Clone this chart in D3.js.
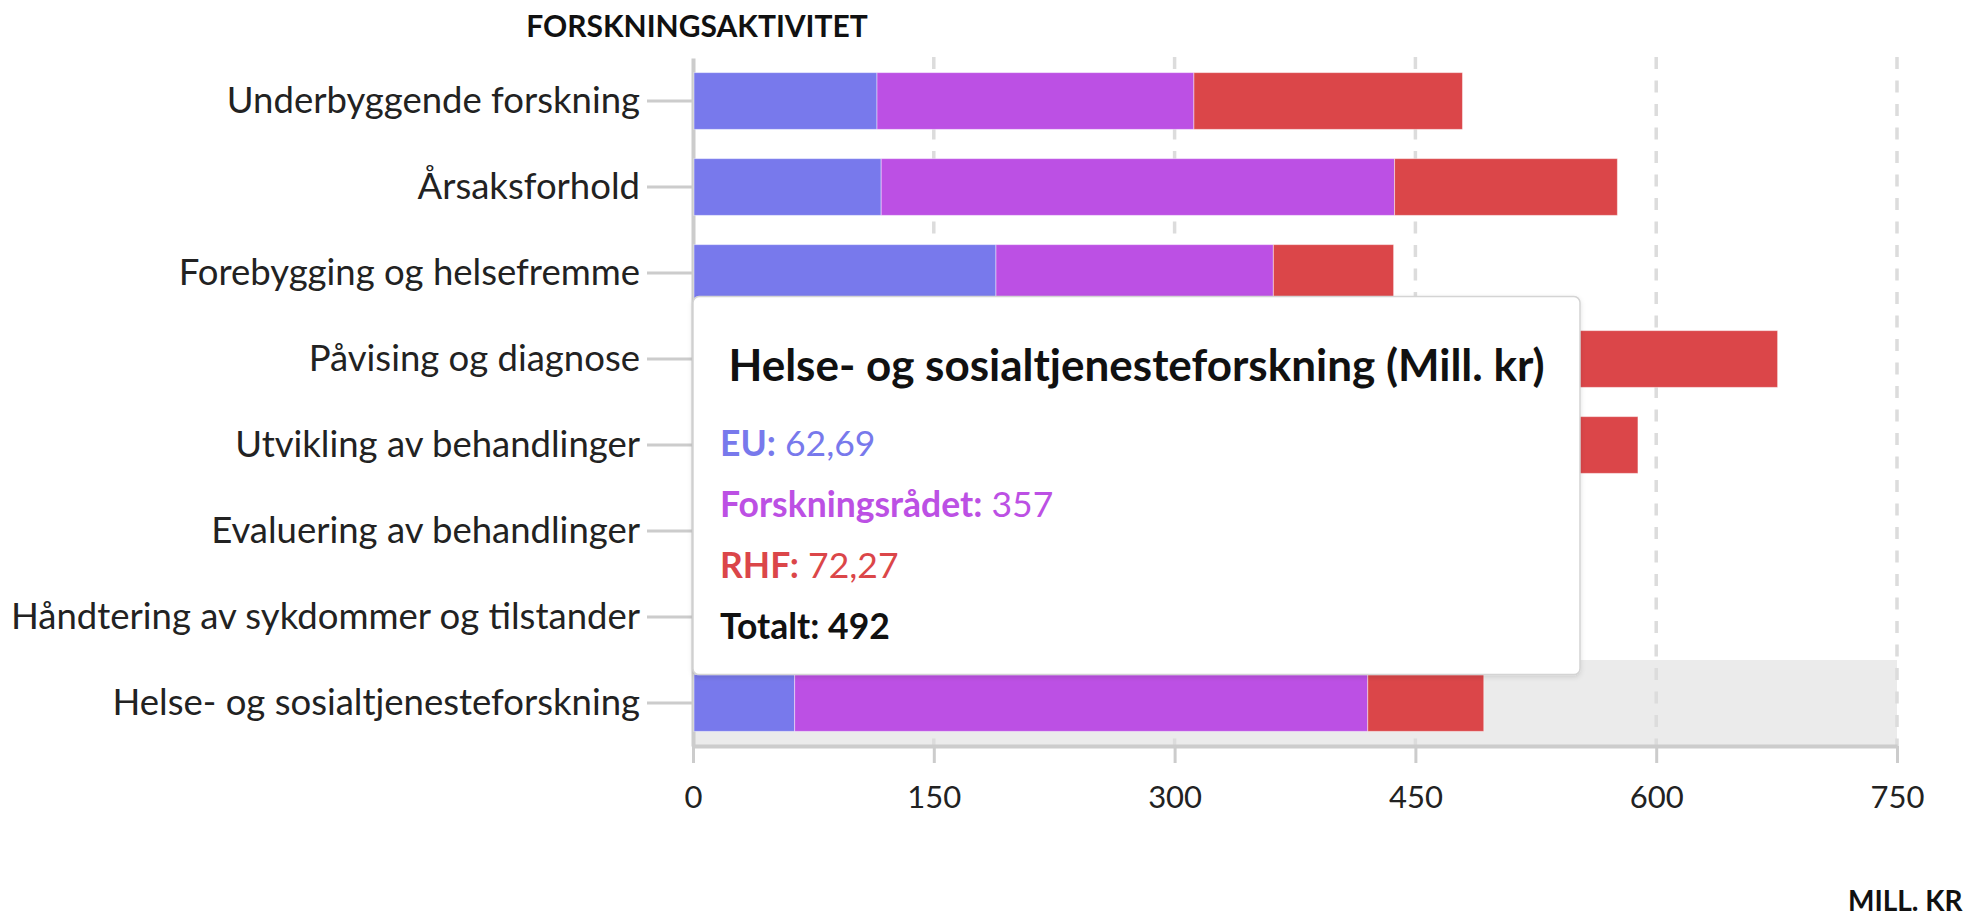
<!DOCTYPE html>
<html>
<head>
<meta charset="utf-8">
<script src="https://cdnjs.cloudflare.com/ajax/libs/d3/7.8.5/d3.min.js"></script>
<style>
  body { margin: 0; background: #fff; }
  svg { display: block; font-family: Lato, "Noto Sans", sans-serif; }
</style>
</head>
<body>
<svg id="chart"></svg>
<script>

var categories = [
    "Underbyggende forskning",
    "Årsaksforhold",
    "Forebygging og helsefremme",
    "Påvising og diagnose",
    "Utvikling av behandlinger",
    "Evaluering av behandlinger",
    "Håndtering av sykdommer og tilstander",
    "Helse- og sosialtjenesteforskning"
];
var series = ["EU", "Forskningsrådet", "RHF"];
var euValues = [114, 116.6, 188.1, 130, 150, 60, 70, 62.69];
var forskningsradetValues = [197.4, 319.8, 172.8, 290, 260, 150, 200, 357];
var rhfValues = [167.3, 138.8, 74.9, 255, 178, 140, 160, 72.27];
var xTicks = [0, 150, 300, 450, 600, 750];
var colors = ["#7879ec", "#bc50e4", "#db4649"];
var yTitle = "FORSKNINGSAKTIVITET";
var xTitle = "MILL. KR";
var unitLabel = "(Mill. kr)";
var totalLabel = "Totalt";
var hovered = "Helse- og sosialtjenesteforskning";

var width = 1977, height = 920;

var table = categories.map(function (c, i) {
    return { category: c, "EU": euValues[i], "Forskningsrådet": forskningsradetValues[i], "RHF": rhfValues[i] };
});

var stacked = d3.stack().keys(series)(table);

var x = d3.scaleLinear()
        .domain([0, 750])
        .range([693, 1897]);

var y = d3.scaleBand()
        .domain(categories)
        .range([58, 746])
        .paddingInner(0.34)
        .paddingOuter(0.17);

var color = d3.scaleOrdinal().domain(series).range(colors);

var nb = d3.formatLocale({ decimal: ",", thousands: "\u00a0", grouping: [3], currency: ["", " kr"] });
var fmt = nb.format(".4~r"),
    fmtTotal = nb.format(".3~r");

var svg = d3.select("#chart")
        .attr("width", width)
        .attr("height", height);

// highlighted row
svg.append("rect")
    .attr("x", x(0))
    .attr("y", y(hovered) - y.step() * y.paddingInner() / 2)
    .attr("width", x(750) - x(0))
    .attr("height", 746 - (y(hovered) - y.step() * y.paddingInner() / 2))
    .style("fill", "#ebebeb");

// grid
svg.append("g")
    .selectAll("line")
    .data(xTicks.slice(1))
    .join("line")
    .attr("x1", function (d) { return x(d); })
    .attr("x2", function (d) { return x(d); })
    .attr("y1", 57)
    .attr("y2", 746)
    .style("stroke", "#dcdcdc")
    .style("stroke-width", 3.5)
    .style("stroke-dasharray", "12,11.5");

// x axis
var xAxis = svg.append("g")
        .attr("class", "x axis")
        .attr("transform", "translate(0,746)")
        .call(d3.axisBottom(x).tickValues(xTicks).tickSize(17).tickPadding(23).tickSizeOuter(0));

xAxis.select(".domain").style("stroke", "#cccccc").style("stroke-width", 4);
xAxis.selectAll(".tick line").style("stroke", "#cccccc").style("stroke-width", 3);
xAxis.selectAll(".tick text")
    .style("font-size", "31px")
    .style("font-family", "Lato, sans-serif")
    .style("fill", "#222");

// y axis
var yAxis = svg.append("g")
        .attr("class", "y axis")
        .attr("transform", "translate(" + x(0) + ",0)")
        .call(d3.axisLeft(y).tickSize(46).tickPadding(7).tickSizeOuter(0));

yAxis.select(".domain").style("stroke", "#cccccc").style("stroke-width", 4);
yAxis.selectAll(".tick line").style("stroke", "#cccccc").style("stroke-width", 3);
yAxis.selectAll(".tick text")
    .style("font-size", "36.5px")
    .style("font-family", "Lato, sans-serif")
    .style("fill", "#222");

// bars
svg.append("g")
    .selectAll("g")
    .data(stacked)
    .join("g")
    .style("fill", function (d) { return color(d.key); })
    .selectAll("rect")
    .data(function (d) { return d; })
    .join("rect")
    .attr("x", function (d) { return x(d[0]) + 1; })
    .attr("y", function (d) { return y(d.data.category); })
    .attr("width", function (d) { return x(d[1]) - x(d[0]); })
    .attr("height", y.bandwidth())
    .style("stroke", "rgba(255,255,255,0.45)")
    .style("stroke-width", 1);

// titles
svg.append("text")
    .attr("x", 697)
    .attr("y", 25)
    .attr("text-anchor", "middle")
    .attr("dominant-baseline", "central")
    .style("font-size", "30px")
    .style("font-weight", "bold")
    .style("fill", "#111")
    .text(yTitle);

svg.append("text")
    .attr("x", 1848)
    .attr("y", 900)
    .attr("text-anchor", "start")
    .attr("dominant-baseline", "central")
    .style("font-size", "28px")
    .style("font-weight", "bold")
    .style("fill", "#111")
    .text(xTitle);

// tooltip
var defs = svg.append("defs");
var shadow = defs.append("filter").attr("id", "shadow").attr("x", "-5%").attr("y", "-5%").attr("width", "110%").attr("height", "115%");
shadow.append("feDropShadow")
    .attr("dx", 0).attr("dy", 2).attr("stdDeviation", 2.5)
    .attr("flood-color", "#000").attr("flood-opacity", 0.12);

var row = table[categories.indexOf(hovered)];
var tipW = 887, tipH = 378;
var tx = x(0), ty = y(hovered) - tipH;

var tip = svg.append("g").attr("transform", "translate(" + tx + "," + ty + ")");

tip.append("rect")
    .attr("width", tipW)
    .attr("height", tipH)
    .attr("rx", 6)
    .style("fill", "#fff")
    .style("stroke", "#d4d4d4")
    .style("stroke-width", 1.5)
    .attr("filter", "url(#shadow)");

tip.append("text")
    .attr("x", tipW / 2)
    .attr("y", 67)
    .attr("text-anchor", "middle")
    .attr("dominant-baseline", "central")
    .style("font-size", "44px")
    .style("font-weight", "bold")
    .style("fill", "#111")
    .text(hovered + " " + unitLabel);

var lines = series.map(function (s) {
    return { name: s, value: fmt(row[s]), color: color(s) };
});
lines.push({ name: totalLabel, value: fmtTotal(d3.sum(series, function (s) { return row[s]; })), color: "#111", bold: true });

var lineText = tip.selectAll("text.line")
    .data(lines)
    .join("text")
    .attr("class", "line")
    .attr("x", 27)
    .attr("y", function (d, i) { return 145 + i * 61; })
    .attr("dominant-baseline", "central")
    .style("font-size", "35.5px")
    .style("fill", function (d) { return d.color; });

lineText.append("tspan")
    .style("font-weight", "bold")
    .text(function (d) { return d.name + ":"; });

lineText.append("tspan")
    .style("font-weight", function (d) { return d.bold ? "bold" : "normal"; })
    .text(function (d) { return " " + d.value; });

</script>
</body>
</html>
